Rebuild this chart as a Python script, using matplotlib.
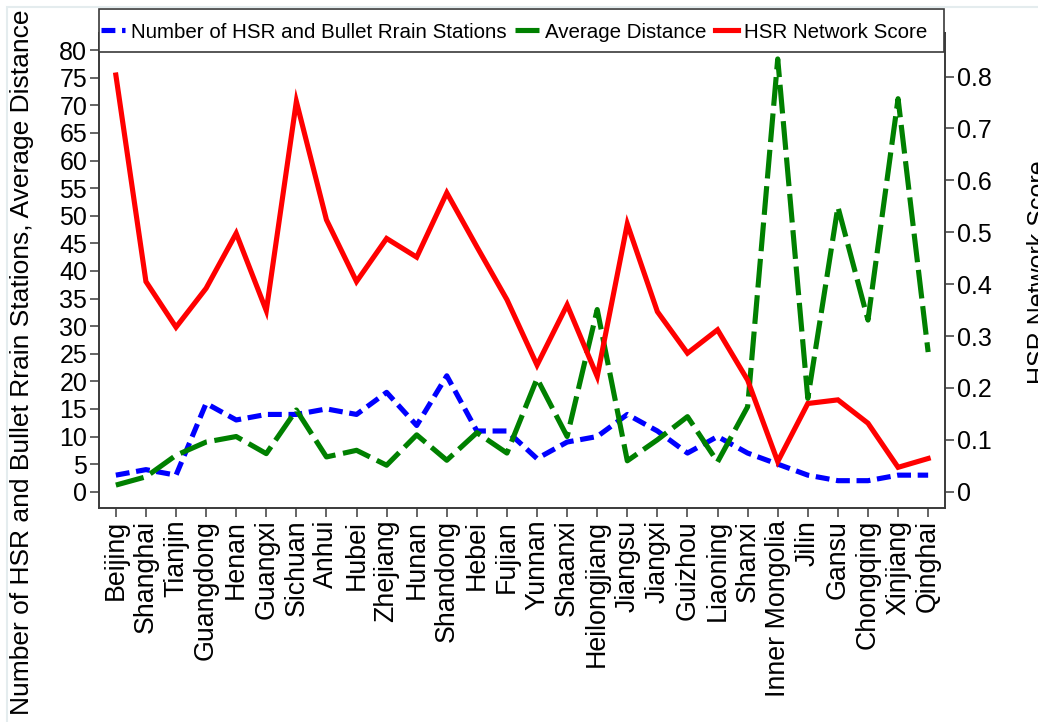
import numpy as np
import matplotlib.pyplot as plt
from matplotlib.patches import Rectangle
from matplotlib.ticker import FuncFormatter

# ── data ──────────────────────────────────────────────────────────────────────

provinces = ['Beijing', 'Shanghai', 'Tianjin', 'Guangdong', 'Henan', 'Guangxi',
             'Sichuan', 'Anhui', 'Hubei', 'Zhejiang', 'Hunan', 'Shandong',
             'Hebei', 'Fujian', 'Yunnan', 'Shaanxi', 'Heilongjiang', 'Jiangsu',
             'Jiangxi', 'Guizhou', 'Liaoning', 'Shanxi', 'Inner Mongolia',
             'Jilin', 'Gansu', 'Chongqing', 'Xinjiang', 'Qinghai']

stations = [3, 4, 3, 16, 13, 14, 14, 15, 14, 18, 12, 21, 11, 11,
            6, 9, 10, 14, 11, 7, 10, 7, 5, 3, 2, 2, 3, 3]

avg_distance = [1.2, 2.7, 6.6, 9.0, 10.0, 6.9, 14.8, 6.3, 7.5, 4.8, 10.3, 5.7,
                10.7, 7.0, 20.5, 10.0, 33.0, 5.6, 9.4, 13.6, 5.4, 15.4, 78.4,
                16.9, 51.6, 31.1, 71.2, 25.3]

network_score = [0.803, 0.405, 0.317, 0.392, 0.498, 0.349, 0.752, 0.524, 0.405,
                 0.488, 0.452, 0.576, 0.472, 0.37, 0.244, 0.36, 0.222, 0.516,
                 0.347, 0.267, 0.312, 0.215, 0.058, 0.170, 0.177, 0.132,
                 0.047, 0.064]

left_ticks = np.arange(0, 81, 5)
right_ticks = np.arange(0, 0.81, 0.1)

# ── figure ────────────────────────────────────────────────────────────────────

plt.rcParams['font.family'] = ['Liberation Sans', 'DejaVu Sans']
W, H = 1038, 722
spine_col = '#3a3a3a'

fig = plt.figure(figsize=(W / 100, H / 100), dpi=100)
ax = fig.add_axes([99 / W, 1 - 508 / H, (945 - 99) / W, (508 - 33) / H])
ax2 = ax.twinx()

x = np.arange(len(provinces))
l1, = ax.plot(x, stations, color='#0000ff', lw=3.7, dashes=(2.7, 1.3),
              solid_joinstyle='miter')
l2, = ax.plot(x, avg_distance, color='#008000', lw=3.7, dashes=(5.6, 1.5))
l3, = ax2.plot(x, network_score, color='#ff0000', lw=3.7,
               solid_joinstyle='miter')

ax.set_xlim(-0.56, len(provinces) - 1 + 0.56)
ax.set_ylim(-2.95, 83.1)
ax2.set_ylim(-0.0314, 0.884)

ax.set_xticks(x)
ax.set_xticklabels(provinces, rotation=90, fontsize=19.3)
ax.set_yticks(left_ticks)
ax.tick_params(axis='y', labelsize=18)
ax2.set_yticks(right_ticks)
ax2.yaxis.set_major_formatter(FuncFormatter(lambda v, p: '0' if abs(v) < 1e-9 else f'{v:.1f}'))
ax2.tick_params(axis='y', labelsize=18)

for a in (ax, ax2):
    a.tick_params(direction='out', length=6.5, width=1.1, color=spine_col, pad=2)
    for s in a.spines.values():
        s.set_color(spine_col)
        s.set_linewidth(1.2)

# legend box sits over the top of the plot region, full width
box = Rectangle((99 / W, 1 - 52 / H), (944 - 99) / W, 43 / H,
                transform=fig.transFigure, facecolor='white',
                edgecolor=spine_col, lw=1.2, zorder=4.5, clip_on=False)
ax2.add_patch(box)

leg = ax2.legend([l1, l2, l3],
                 ['Number of HSR and Bullet Rrain Stations', 'Average Distance',
                  'HSR Network Score'],
                 loc='center', bbox_to_anchor=(0, 1 + 1 / 475, 0.982, 0.0),
                 mode='expand', ncol=3, fontsize=14.8, frameon=False,
                 borderaxespad=0, borderpad=0.1,
                 handlelength=1.15, handletextpad=0.3, columnspacing=0.2)
leg.set_zorder(5)

fig.text(22 / W, 1 - 362 / H,
         'Number of HSR and Bullet Rrain Stations, Average Distance',
         rotation=90, ha='center', va='center', fontsize=19)
fig.text(1027 / W, 1 - 272 / H, 'HSR Network Score',
         rotation=90, ha='left', va='center', fontsize=18)

fig.patches.append(Rectangle((7 / W, -0.1), 1.2, 1.1 - 7 / H,
                             transform=fig.transFigure, fill=False,
                             edgecolor='#e4ecee', lw=1.5))

fig.savefig('out.png', dpi=100, facecolor='white')
